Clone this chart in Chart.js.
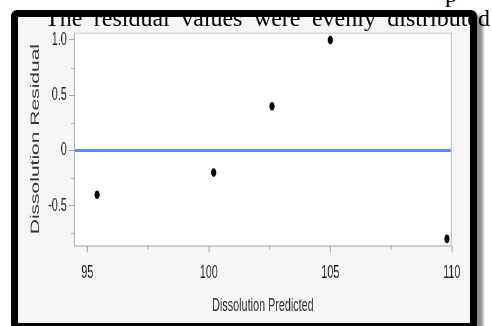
<!DOCTYPE html>
<html>
<head>
<meta charset="utf-8">
<script src="https://cdn.jsdelivr.net/npm/chart.js@4.4.1/dist/chart.umd.min.js"></script>
<style>
  html, body { margin: 0; padding: 0; background: #fff; width: 492px; height: 326px; overflow: hidden; position: relative; }
  #frame {
    position: absolute; left: 11px; top: 10px; width: 452px; height: 306px;
    border: 7px solid #000; border-radius: 6px; background: #f6f6f6;
    box-shadow: 6px 5px 3px rgba(0,0,0,0.45);
  }
  /* the plot is drawn wide and squeezed horizontally */
  #plot { position: absolute; left: 0; top: 0; width: 753px; height: 306px; transform: scaleX(0.6); transform-origin: 0 0; }
  .line { position: absolute; font-family: "Liberation Serif", "Times New Roman", serif; font-size: 24px; line-height: 24px; color: #000; white-space: nowrap; }
  #caption { left: 45px; top: 6px; width: 445px; text-align: justify; text-align-last: justify; }
  #prev { left: 445px; top: -18px; }
</style>
</head>
<body>
<div id="frame"><canvas id="plot" width="753" height="306"></canvas></div>
<div class="line" id="prev">p</div>
<div class="line" id="caption">The residual values were evenly distributed</div>
<script>
// Residual-by-predicted values
const predicted = [95.4, 100.2, 102.6, 105.0, 109.8];
const residual = [-0.4, -0.2, 0.4, 1.0, -0.8];

// Axis ticks
const xTicks = [95, 100, 105, 110];
const xMinorTicks = [97.5, 102.5, 107.5];
const yTicks = [-0.5, 0, 0.5, 1.0];
const yTickLabels = ['-0.5', '0', '0.5', '1.0'];
const yMinorTicks = [-0.75, -0.25, 0.25, 0.75];
const zeroLine = 0;

const SQ = 0.6;             // horizontal squeeze applied by CSS
const VW = 1 / SQ;          // width of a vertical 1px line in canvas units

const plotDecor = {
  id: 'plotDecor',
  beforeDraw(chart) {
    const { ctx, chartArea: a } = chart;
    ctx.save();
    ctx.fillStyle = '#ffffff';
    ctx.fillRect(a.left, a.top, a.right - a.left, a.bottom - a.top);
    ctx.restore();
  },
  beforeDatasetsDraw(chart) {
    const { ctx, chartArea: a, scales: { x, y } } = chart;
    ctx.save();
    // frame of the plot
    ctx.strokeStyle = '#c6c6c6';
    ctx.lineWidth = 1;
    ctx.beginPath(); ctx.moveTo(a.left, a.top + 0.5); ctx.lineTo(a.right, a.top + 0.5); ctx.stroke();
    ctx.lineWidth = VW;
    ctx.beginPath(); ctx.moveTo(a.right - VW / 2, a.top); ctx.lineTo(a.right - VW / 2, a.bottom); ctx.stroke();
    ctx.strokeStyle = '#a2a2a2';
    ctx.beginPath(); ctx.moveTo(a.left + VW / 2, a.top); ctx.lineTo(a.left + VW / 2, a.bottom + 0.5); ctx.stroke();
    ctx.lineWidth = 1;
    ctx.beginPath(); ctx.moveTo(a.left, a.bottom + 0.5); ctx.lineTo(a.right, a.bottom + 0.5); ctx.stroke();
    // minor ticks
    ctx.strokeStyle = '#a8a8a8';
    ctx.lineWidth = VW;
    xMinorTicks.forEach(v => {
      const px = x.getPixelForValue(v);
      ctx.beginPath(); ctx.moveTo(px, a.bottom); ctx.lineTo(px, a.bottom + 4); ctx.stroke();
    });
    ctx.lineWidth = 1;
    yMinorTicks.forEach(v => {
      const py = Math.round(y.getPixelForValue(v)) + 0.5;
      ctx.beginPath(); ctx.moveTo(a.left, py); ctx.lineTo(a.left - 3 * VW, py); ctx.stroke();
    });
    // zero reference line
    const zy = y.getPixelForValue(zeroLine);
    ctx.strokeStyle = '#5b8de6';
    ctx.lineWidth = 3;
    ctx.beginPath(); ctx.moveTo(a.left + VW, zy); ctx.lineTo(a.right - VW, zy); ctx.stroke();
    ctx.restore();
  }
};

new Chart(document.getElementById('plot'), {
  type: 'scatter',
  data: {
    datasets: [{
      data: predicted.map((p, i) => ({ x: p, y: residual[i] })),
      backgroundColor: '#000',
      borderWidth: 0,
      pointRadius: 4.3,
      pointHoverRadius: 4.3
    }]
  },
  options: {
    responsive: false,
    animation: false,
    devicePixelRatio: 1,
    layout: { padding: { left: 0, top: 15.7, right: 30, bottom: 0 } },
    plugins: { legend: { display: false }, tooltip: { enabled: false } },
    scales: {
      x: {
        type: 'linear',
        min: 94.45, max: 110,
        afterBuildTicks: s => { s.ticks = xTicks.map(v => ({ value: v })); },
        afterFit: s => { s.height = 77.5; },
        border: { display: false },
        grid: { drawOnChartArea: false, tickLength: 7, tickWidth: VW, tickColor: '#a2a2a2' },
        ticks: {
          color: '#222', padding: 9.7, maxRotation: 0, autoSkip: false,
          font: { family: '"Liberation Sans", Arial, sans-serif', size: 18 },
          callback: v => String(v)
        },
        title: {
          display: true, text: 'Dissolution Predicted', color: '#2e2e2e',
          font: { family: '"Liberation Sans", Arial, sans-serif', size: 18 },
          padding: { top: 0, bottom: 6.5 }
        }
      },
      y: {
        type: 'linear',
        min: -0.86, max: 1.066,
        afterBuildTicks: s => { s.ticks = yTicks.map(v => ({ value: v })); },
        afterFit: s => { s.width = 93.3; },
        border: { display: false },
        grid: { drawOnChartArea: false, tickLength: 5 * VW, tickWidth: 1, tickColor: '#a2a2a2' },
        ticks: {
          color: '#222', padding: 3.8, autoSkip: false,
          font: { family: '"Liberation Sans", Arial, sans-serif', size: 18 },
          callback: (v, i) => yTickLabels[i]
        },
        title: {
          display: true, text: 'Dissolution Residual', color: '#333',
          font: { family: '"Liberation Sans", Arial, sans-serif', size: 21 },
          padding: { top: 16.6, bottom: 0 }
        }
      }
    }
  },
  plugins: [plotDecor]
});
</script>
</body>
</html>
